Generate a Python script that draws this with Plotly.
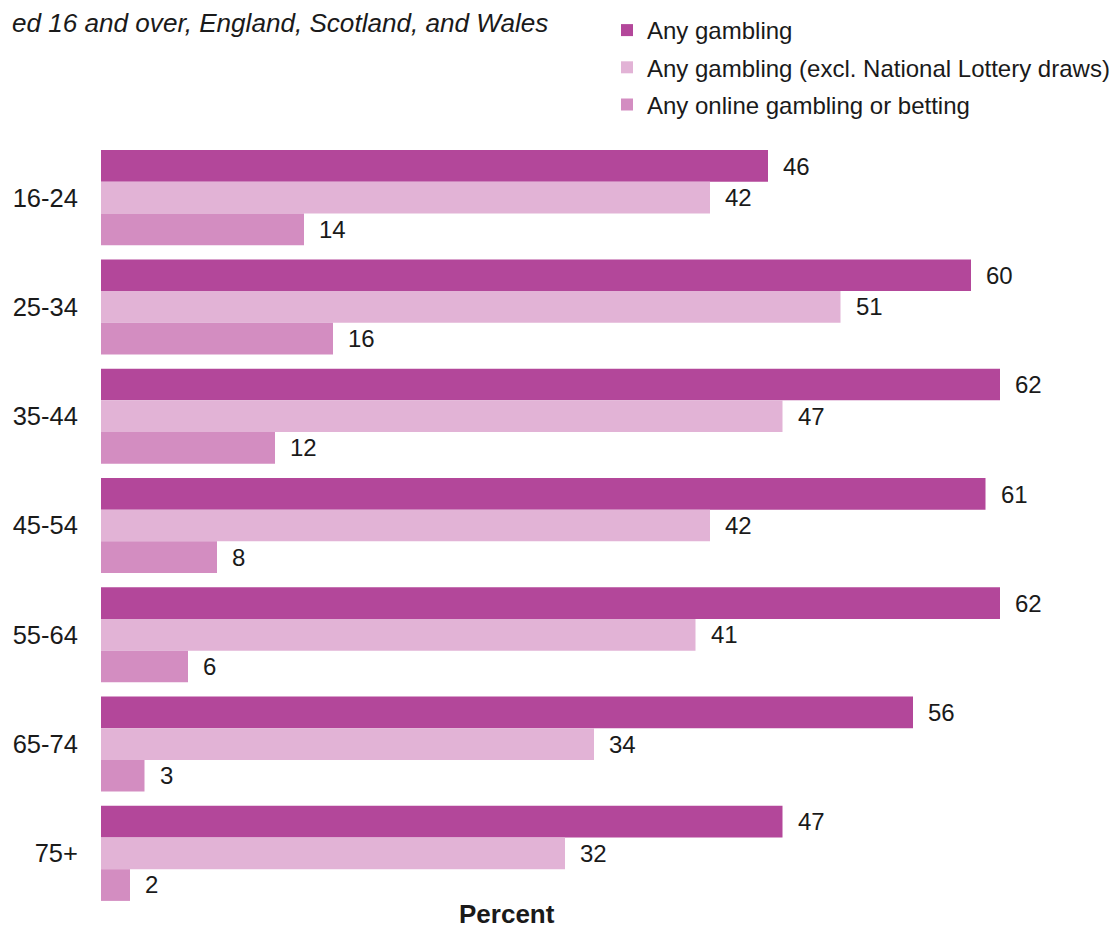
import plotly.graph_objects as go

categories = ["16-24", "25-34", "35-44", "45-54", "55-64", "65-74", "75+"]
series_names = ["Any gambling", "Any gambling (excl. National Lottery draws)", "Any online gambling or betting"]
any_gambling = [46, 60, 62, 61, 62, 56, 47]
any_excl_nl = [42, 51, 47, 42, 41, 34, 32]
any_online = [14, 16, 12, 8, 6, 3, 2]
colors = ["#B3479A", "#E2B3D6", "#D38DC1"]

series = [any_gambling, any_excl_nl, any_online]
FONT = "Liberation Sans, Arial, sans-serif"
TXT = "#1a1a1a"

# page body has an 8px margin; figure coordinates = page - 8
W, H = 1112, 920
ML, MR, MT, MB = 93, 4, 135, 20
PW = W - ML - MR

fig = go.Figure()
for i, (name, vals) in enumerate(zip(series_names, series)):
    fig.add_trace(go.Bar(
        y=categories, x=vals, name=name, orientation="h",
        marker=dict(color=colors[i], line=dict(width=0)),
        legendgroup=f"g{i}",
    ))

# data labels
bar_h_shift = 31.5
for i, vals in enumerate(series):
    for c, v in zip(categories, vals):
        fig.add_annotation(
            x=v, y=c, xref="x", yref="y", text=str(v), showarrow=False,
            xanchor="left", xshift=13, yshift=(1 - i) * bar_h_shift,
            font=dict(size=24, color=TXT, family=FONT),
        )

fig.add_annotation(
    text="<i>ed 16 and over, England, Scotland, and Wales</i>",
    xref="paper", yref="paper", x=(549 - 8 - ML) / PW, y=1,
    xanchor="right", yanchor="middle", yshift=(143 - 23), showarrow=False,
    borderpad=0,
    font=dict(size=26.1, color=TXT, family=FONT),
)
fig.add_annotation(
    text="<b>Percent</b>", xref="paper", yref="paper",
    x=(507 - 8 - ML) / PW, y=0, yanchor="middle", yshift=-6, showarrow=False,
    borderpad=0,
    font=dict(size=26, color=TXT, family=FONT),
)

fig.update_layout(
    width=W, height=H,
    margin=dict(l=ML, r=MR, t=MT, b=MB, autoexpand=False),
    plot_bgcolor="white", paper_bgcolor="white",
    barmode="group", bargap=0.13, bargroupgap=0,
    font=dict(family=FONT, size=24, color=TXT),
    legend=dict(
        xref="container", yref="container", x=599 / W, y=1 + 13 / H,
        xanchor="left", yanchor="top", traceorder="grouped",
        tracegroupgap=3, itemwidth=30,
        font=dict(size=24, family=FONT, color=TXT),
        bgcolor="rgba(0,0,0,0)",
    ),
    xaxis=dict(range=[0, 70], showticklabels=False, showgrid=False,
               zeroline=False, showline=False, ticks=""),
    yaxis=dict(autorange="reversed", showgrid=False, showline=False,
               ticks="outside", ticklen=17, tickcolor="rgba(0,0,0,0)",
               tickfont=dict(size=25.5, family=FONT, color=TXT)),
    showlegend=True,
)

fig.write_html("out.html")
